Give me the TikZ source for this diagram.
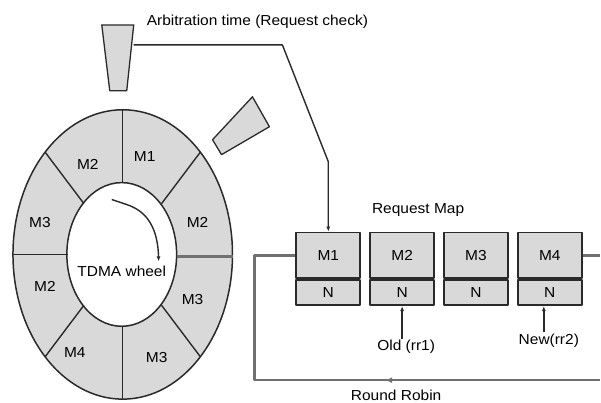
\documentclass[tikz,border=0pt]{standalone}
\usepackage{fontspec}
\setmainfont[FakeStretch=1.07]{Liberation Sans}
\usetikzlibrary{arrows.meta,calc}
\definecolor{wheelGray}{HTML}{D9D9D9}
\definecolor{loopGray}{HTML}{707070}
\definecolor{wheelInk}{HTML}{2A2A2A}

\begin{document}
\begin{tikzpicture}[x=1pt,y=-1pt,>={Latex[length=5pt,width=4pt]},line join=round]
\path[fill=white] (0,0) rectangle (601,403);
\tikzset{lbl/.style={font=\fontsize{14.5}{17}\selectfont,inner sep=1pt},mapbox/.style={draw=wheelInk,fill=wheelGray,line width=1.8pt,minimum width=64pt,minimum height=46pt,inner sep=0pt,font=\fontsize{14.5}{17}\selectfont},nbox/.style={mapbox,minimum height=25pt},loopline/.style={draw=loopGray,line width=2.6pt},thin/.style={draw=wheelInk,line width=1.4pt}}
% TDMA wheel
\filldraw[fill=wheelGray,draw=wheelInk,line width=1.5pt] (123,255) ellipse [x radius=110pt,y radius=145pt];
\filldraw[fill=white,draw=wheelInk,line width=1.5pt] (122,255) ellipse [x radius=55pt,y radius=72pt];
\foreach \a in {45,90,...,315}
  \draw[thin] ({123+55*cos(\a)},{255+72*sin(\a)}) -- ({123+110*cos(\a)},{255+145*sin(\a)});
\draw[loopline] (177,257) -- (233,257);
\foreach \x/\y/\t [count=\i] in {145/157/M1,88/165/M2,40/223/M3,198/223/M2,45/287/M2,193/300/M3,75/353/M4,157/358/M3}
  \node[lbl] (seg\i) at (\x,\y) {\t};
\node[lbl] (tdma) at (122,272) {TDMA wheel};
\draw[thin,->] (112,200) -- (127,205) .. controls (142,210) and (158,222) .. (159,262);
% arbitration pointers
\filldraw[fill=wheelGray,draw=wheelInk,line width=1.3pt] (102,25) -- (134,25) -- (127,91) -- (110,91) -- cycle;
\filldraw[fill=wheelGray,draw=wheelInk,line width=1.3pt] (253,97) -- (270,127) -- (222,155) -- (213,140) -- cycle;
\coordinate (arb) at (134,45);
\node[lbl] (arbtxt) at (258,22) {Arbitration time (Request check)};
% request map
\node[lbl] (maptxt) at (419,210) {Request Map};
\foreach \i in {1,...,4} {
  \node[mapbox] (m\i) at ({329+74*(\i-1)},256) {M\i};
  \node[nbox,anchor=north] (n\i) at (m\i.south) {N};
}
\draw[thin,->] (arb) -- (283,45) -- (m1.north |- 0,162) -- (m1.north);
\node[lbl] (old) at (407,348) {Old (rr1)};
\node[lbl] (new) at (550,341) {New(rr2)};
\draw[thin,->] (n2.south |- old.north) -- (n2.south);
\draw[thin,->] ([xshift=-6pt]n4.south |- new.north) -- ([xshift=-6pt]n4.south);
% round robin loop
\coordinate (rrR) at (601,381);
\coordinate (rrL) at (255,381);
\draw[loopline] (m4.east) -- (m4.east -| rrR);
\draw[loopline] (rrR) -- (rrL) |- (m1.west);
\draw[loopline,-{Latex[length=7pt,width=6pt]}] (rrR) -- (386,381);
\node[lbl] (rrtxt) at (397,396) {Round Robin};
\end{tikzpicture}
\end{document}
